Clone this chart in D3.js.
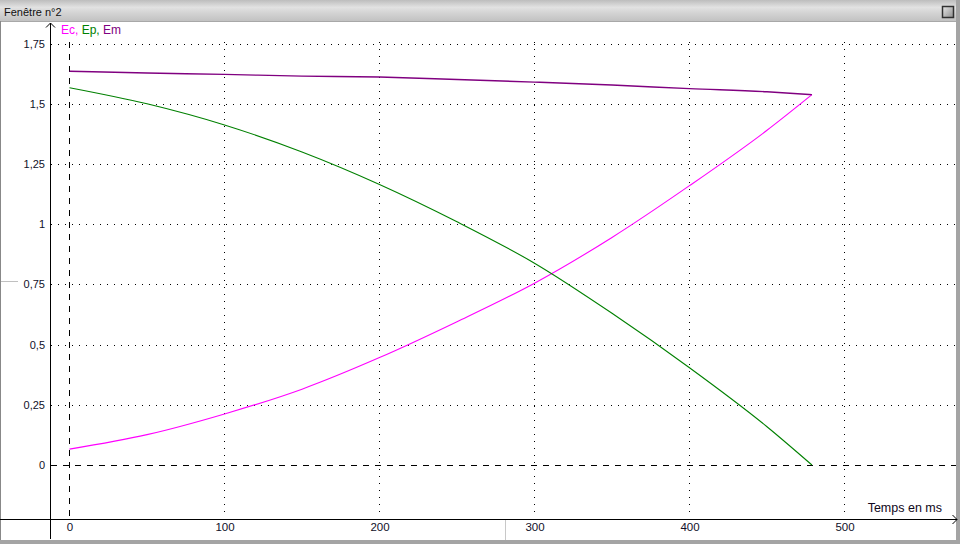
<!DOCTYPE html>
<html><head><meta charset="utf-8">
<script src="https://cdn.jsdelivr.net/npm/d3@7"></script>
<style>
html,body{margin:0;padding:0;background:#fff;}
svg{display:block;font-family:"Liberation Sans",Arial,sans-serif;}
</style></head>
<body>
<svg id="c" width="960" height="544"></svg>
<script>
// ---- data ----
const times = [0, 50, 100, 150, 200, 250, 300, 350, 400, 450, 479];
const ecValues = [0.066, 0.126, 0.212, 0.315, 0.446, 0.595, 0.755, 0.945, 1.16, 1.39, 1.538];
const epValues = [1.567, 1.500, 1.412, 1.300, 1.165, 1.010, 0.838, 0.630, 0.404, 0.159, 0.0];
const emValues = [1.635, 1.628, 1.622, 1.615, 1.611, 1.601, 1.590, 1.578, 1.563, 1.550, 1.538];
const xTicks = [0, 100, 200, 300, 400, 500];
const yTicks = [0, 0.25, 0.5, 0.75, 1, 1.25, 1.5, 1.75];
const seriesNames = ["Ec", "Ep", "Em"];
const seriesColors = ["#ff00ff", "#008000", "#800080"];
const titleText = "Fenêtre n°2";
const xTitle = "Temps en ms";

const svg = d3.select("#c");
const W = 960, H = 544;
const x = d3.scaleLinear().domain([0, 500]).range([69.5, 844.5]);
const y = d3.scaleLinear().domain([0, 1.75]).range([465, 43.6]);
const loc = d3.formatLocale({decimal: ",", thousands: " ", grouping: [3], currency: ["", "€"]});
const fmt = loc.format(".3~f");

// title bar
const defs = svg.append("defs");
const g1 = defs.append("linearGradient").attr("id","tb").attr("x1",0).attr("y1",0).attr("x2",0).attr("y2",1);
g1.append("stop").attr("offset","0").attr("stop-color","#bdbdbd");
g1.append("stop").attr("offset","0.35").attr("stop-color","#e2e2e2");
g1.append("stop").attr("offset","0.6").attr("stop-color","#d4d4d4");
g1.append("stop").attr("offset","1").attr("stop-color","#c2c2c2");
svg.append("rect").attr("x",0).attr("y",0).attr("width",W).attr("height",21).attr("fill","url(#tb)");
svg.append("line").attr("x1",0).attr("x2",W).attr("y1",21.5).attr("y2",21.5).attr("stroke","#a8a8a8");
svg.append("text").attr("x",4).attr("y",15.5).attr("font-size",11).attr("fill","#101010").text(titleText);
// button
const g2 = defs.append("linearGradient").attr("id","bt").attr("x1",0).attr("y1",0).attr("x2",1).attr("y2",1);
g2.append("stop").attr("offset","0").attr("stop-color","#e8e8e8");
g2.append("stop").attr("offset","1").attr("stop-color","#8c8c8c");
svg.append("rect").attr("x",942.5).attr("y",6.5).attr("width",11).attr("height",11).attr("fill","url(#bt)").attr("stroke","#303030").attr("stroke-width",1.5);

// borders
svg.append("rect").attr("x",956).attr("y",0).attr("width",4).attr("height",H).attr("fill","#a4a4a4");
svg.append("rect").attr("x",0).attr("y",540).attr("width",W).attr("height",4).attr("fill","#a4a4a4");
svg.append("line").attr("x1",0.5).attr("x2",0.5).attr("y1",21).attr("y2",540).attr("stroke","#888");
svg.append("line").attr("x1",1).attr("x2",18).attr("y1",281.5).attr("y2",281.5).attr("stroke","#c0c0c0");
svg.append("line").attr("x1",505.5).attr("x2",505.5).attr("y1",520).attr("y2",540).attr("stroke","#c8c8c8");

// grid
const grid = svg.append("g");
grid.selectAll("line.h").data(yTicks.filter(d => d !== 0)).join("line")
  .attr("x1",51).attr("x2",956).attr("y1",d => Math.round(y(d))+0.5).attr("y2",d => Math.round(y(d))+0.5)
  .attr("stroke","#000").attr("stroke-dasharray","1,6").attr("shape-rendering","crispEdges");
grid.selectAll("line.v").data(xTicks.filter(d => d !== 0)).join("line")
  .attr("x1",d => Math.round(x(d))-0.5).attr("x2",d => Math.round(x(d))-0.5).attr("y1",42).attr("y2",518)
  .attr("stroke","#000").attr("stroke-dasharray","1,6").attr("shape-rendering","crispEdges");
// zero lines dashed
grid.append("line").attr("x1",51).attr("x2",956).attr("y1",Math.round(y(0))+0.5).attr("y2",Math.round(y(0))+0.5)
  .attr("stroke","#000").attr("stroke-dasharray","6,6").attr("shape-rendering","crispEdges");
grid.append("line").attr("x1",Math.round(x(0))-0.5).attr("x2",Math.round(x(0))-0.5).attr("y1",42).attr("y2",518)
  .attr("stroke","#000").attr("stroke-dasharray","6,6").attr("shape-rendering","crispEdges");

// axes
svg.append("line").attr("x1",50.5).attr("x2",50.5).attr("y1",23).attr("y2",539).attr("stroke","#000");
svg.append("path").attr("d","M46,27.5L50.5,23L55,27.5").attr("fill","none").attr("stroke","#000");
svg.append("line").attr("x1",0).attr("x2",957).attr("y1",519.5).attr("y2",519.5).attr("stroke","#000");
svg.append("path").attr("d","M952.5,515L957,519.5L952.5,524").attr("fill","none").attr("stroke","#000");

// tick labels
const yAxis = d3.axisLeft(y).tickValues(yTicks).tickSize(0).tickPadding(0).tickFormat(fmt);
const ya = svg.append("g").attr("transform","translate(45,0)").call(yAxis);
ya.select(".domain").remove();
ya.selectAll("text").attr("font-size",11).attr("font-family","Liberation Sans, Arial, sans-serif").attr("fill","#101028");

const xAxis = d3.axisBottom(x).tickValues(xTicks).tickSize(0).tickPadding(0).tickFormat(fmt);
const xa = svg.append("g").attr("transform","translate(0,523)").call(xAxis);
xa.select(".domain").remove();
xa.selectAll("text").attr("font-size",11.5).attr("font-family","Liberation Sans, Arial, sans-serif").attr("fill","#101028");

svg.append("text").attr("x",942).attr("y",512).attr("text-anchor","end").attr("font-size",12.5).attr("fill","#100820").text(xTitle);

// legend
const leg = svg.append("text").attr("x",61).attr("y",34).attr("font-size",12);
seriesNames.forEach((n,i) => {
  leg.append("tspan").attr("fill",seriesColors[i]).text((i>0?" ":"") + n + (i<seriesNames.length-1?",":""));
});

// curves
const all = [ecValues, epValues, emValues];
const line = d3.line().x((d,i) => x(times[i])).y(d => y(d)).curve(d3.curveMonotoneX);
all.forEach((vals,i) => {
  svg.append("path").datum(vals).attr("d",line).attr("fill","none")
    .attr("stroke",seriesColors[i]).attr("stroke-width", i===2 ? 1.4 : 1.1);
});
</script>
</body></html>
